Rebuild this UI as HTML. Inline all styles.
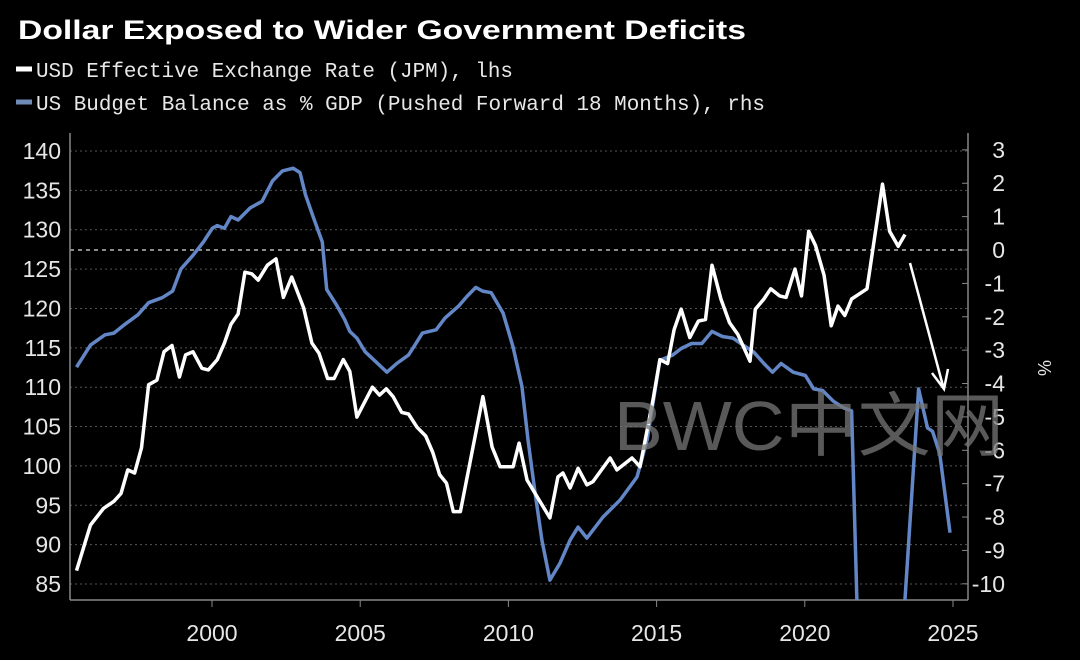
<!DOCTYPE html>
<html><head><meta charset="utf-8"><style>
html,body{margin:0;padding:0;background:#000;width:1080px;height:660px;overflow:hidden;}
svg{display:block;}
</style></head><body>
<svg id="chart" width="1080" height="660" viewBox="0 0 1080 660" xmlns="http://www.w3.org/2000/svg">
<rect width="1080" height="660" fill="#000"/>
<text x="18" y="39" fill="#fff" font-family="Liberation Sans, sans-serif" font-weight="bold" font-size="27" textLength="728" lengthAdjust="spacingAndGlyphs">Dollar Exposed to Wider Government Deficits</text>
<g>
<g>
<line x1="16" y1="69" x2="32" y2="69" stroke="#fff" stroke-width="5"/>
<text x="36" y="77" fill="#e8e8e8" font-family="Liberation Mono, monospace" font-size="21" textLength="477" lengthAdjust="spacingAndGlyphs">USD Effective Exchange Rate (JPM), lhs</text>
</g>
<g>
<line x1="16" y1="102" x2="32" y2="102" stroke="#6f8ab5" stroke-width="5"/>
<text x="36" y="110" fill="#e8e8e8" font-family="Liberation Mono, monospace" font-size="21" textLength="729" lengthAdjust="spacingAndGlyphs">US Budget Balance as % GDP (Pushed Forward 18 Months), rhs</text>
</g>
</g>
<g id="grid"></g>
<g id="axes"></g>
<defs><clipPath id="clip"><rect x="70" y="133" width="898" height="467"/></clipPath></defs>
<g id="series" clip-path="url(#clip)"></g>
<text x="614" y="450" fill="#777" fill-opacity="0.75" font-family="Liberation Sans, 'Noto Sans CJK SC', sans-serif" font-size="70" textLength="390" lengthAdjust="spacingAndGlyphs">BWC中文网</text>
<g>
<line x1="910" y1="263" x2="943" y2="386" stroke="#fff" stroke-width="2.5"/>
<polyline points="932,373 944,389 948,369" fill="none" stroke="#fff" stroke-width="2.5"/>
</g>
</svg>
<script>
const leftTicks = [85,90,95,100,105,110,115,120,125,130,135,140];
const rightTicks = [3,2,1,0,-1,-2,-3,-4,-5,-6,-7,-8,-9,-10];
const yearTicks = [2000,2005,2010,2015,2020,2025];
const usdYears = [1995.43,1995.90,1996.34,1996.69,1996.93,1997.16,1997.39,1997.62,1997.86,1998.14,1998.38,1998.65,1998.90,1999.11,1999.36,1999.66,1999.88,2000.18,2000.42,2000.64,2000.88,2001.11,2001.34,2001.56,2001.87,2002.16,2002.41,2002.69,2003.09,2003.37,2003.61,2003.90,2004.12,2004.43,2004.65,2004.89,2005.12,2005.41,2005.65,2005.88,2006.11,2006.40,2006.63,2006.92,2007.21,2007.45,2007.68,2007.91,2008.14,2008.38,2009.14,2009.45,2009.72,2010.16,2010.36,2010.63,2011.40,2011.67,2011.84,2012.08,2012.35,2012.65,2012.85,2013.43,2013.66,2014.17,2014.44,2014.88,2015.11,2015.37,2015.59,2015.83,2016.12,2016.41,2016.65,2016.87,2017.17,2017.46,2017.74,2018.15,2018.33,2018.62,2018.85,2019.15,2019.37,2019.67,2019.89,2020.13,2020.36,2020.65,2020.89,2021.12,2021.35,2021.58,2021.82,2022.10,2022.62,2022.86,2023.15,2023.38];
const usdValues = [86.7,92.5,94.6,95.5,96.5,99.5,99.1,102.3,110.3,110.9,114.5,115.3,111.3,114.1,114.5,112.4,112.2,113.5,115.6,118,119.3,124.6,124.4,123.6,125.5,126.3,121.4,124,120.1,115.6,114.3,111.1,111.1,113.5,112,106.2,107.9,110,109,109.8,108.8,106.8,106.6,104.9,103.8,101.7,98.9,97.8,94.2,94.2,108.8,102.4,99.9,99.9,102.9,98.2,93.4,98.6,99.1,97.2,99.7,97.6,98.0,101.0,99.5,101.0,99.9,108.4,113.5,113,117.3,119.9,116.3,118.4,118.6,125.5,121.2,118.2,116.7,113.3,119.9,121.2,122.5,121.6,121.4,125,121.6,129.8,128,124.2,117.8,120.3,119.1,121.2,121.8,122.5,135.8,129.8,127.9,129.4];
const budgetYears = [1995.43,1995.90,1996.39,1996.69,1997.04,1997.50,1997.86,1998.32,1998.67,1998.95,1999.36,1999.71,2000.01,2000.18,2000.42,2000.64,2000.88,2001.29,2001.69,2002.04,2002.38,2002.74,2002.97,2003.15,2003.43,2003.72,2003.87,2004.19,2004.48,2004.65,2004.89,2005.17,2005.53,2005.90,2006.23,2006.63,2006.81,2007.10,2007.56,2007.86,2008.32,2008.61,2008.90,2009.13,2009.42,2009.82,2010.16,2010.46,2010.66,2010.90,2011.13,2011.40,2011.74,2012.08,2012.35,2012.65,2013.19,2013.77,2014.34,2014.68,2015.11,2015.54,2015.83,2016.18,2016.53,2016.87,2017.22,2017.57,2017.92,2018.27,2018.62,2018.91,2019.20,2019.61,2020.02,2020.30,2020.60,2020.95,2021.29,2021.58,2021.90,2023.05,2023.84,2024.14,2024.31,2024.55,2024.90];
const budgetValues = [-3.51,-2.85,-2.54,-2.49,-2.24,-1.94,-1.58,-1.43,-1.23,-0.57,-0.16,0.24,0.65,0.73,0.65,1.0,0.9,1.26,1.46,2.07,2.37,2.45,2.32,1.66,0.95,0.24,-1.18,-1.63,-2.09,-2.44,-2.64,-3.05,-3.35,-3.66,-3.4,-3.15,-2.9,-2.49,-2.39,-2.04,-1.68,-1.38,-1.12,-1.23,-1.28,-1.89,-2.91,-4.10,-5.69,-7.28,-8.69,-9.89,-9.38,-8.69,-8.30,-8.63,-8.00,-7.49,-6.80,-5.69,-3.30,-3.15,-2.95,-2.8,-2.8,-2.44,-2.59,-2.64,-2.85,-3.05,-3.4,-3.66,-3.4,-3.66,-3.76,-4.16,-4.21,-4.52,-4.72,-4.82,-15,-15,-4.16,-5.33,-5.43,-6.09,-8.47];

const NS = 'http://www.w3.org/2000/svg';
const X0 = 70, X1 = 968, Y0 = 133, Y1 = 600;
const xScale = yr => 212 + (yr - 2000) * 29.64;
const yLeft = v => 151 + (140 - v) * 7.873;
const yRight = v => 250 - v * 33.38;
function mk(tag, attrs, parent){ const e = document.createElementNS(NS, tag); for (const k in attrs) e.setAttribute(k, attrs[k]); parent.appendChild(e); return e; }
const grid = document.getElementById('grid');
const axes = document.getElementById('axes');
const series = document.getElementById('series');

leftTicks.forEach(v => {
  const y = yLeft(v);
  const g = mk('line', {x1: X0, x2: X1, y1: y, y2: y, stroke: '#555', 'stroke-width': 1, 'stroke-dasharray': '2,3'}, grid);
  
  
  const t = mk('text', {x: 61, y: y + 8, fill: '#e6e6e6', 'font-family': 'Liberation Sans, sans-serif', 'font-size': 23, 'text-anchor': 'end'}, axes);
  t.textContent = v;
  
  
});
const zl = mk('line', {x1: X0, x2: X1, y1: yRight(0), y2: yRight(0), stroke: '#ddd', 'stroke-width': 1.3, 'stroke-dasharray': '4,4'}, grid);


rightTicks.forEach(v => {
  const y = yRight(v);
  mk('line', {x1: X1 - 6, x2: X1, y1: y, y2: y, stroke: '#888', 'stroke-width': 1}, axes);
  const t = mk('text', {x: 1005, y: y + 8, fill: '#e6e6e6', 'font-family': 'Liberation Sans, sans-serif', 'font-size': 23, 'text-anchor': 'end'}, axes);
  t.textContent = v;
  
  
});
yearTicks.forEach(yr => {
  const x = xScale(yr);
  mk('line', {x1: x, x2: x, y1: Y1, y2: Y1 + 7, stroke: '#888', 'stroke-width': 1}, axes);
  const t = mk('text', {x: x, y: 641, fill: '#e6e6e6', 'font-family': 'Liberation Sans, sans-serif', 'font-size': 23, 'text-anchor': 'middle'}, axes);
  t.textContent = yr;
  
  
});
const la = mk('line', {x1: X0, x2: X0, y1: Y0, y2: Y1, stroke: '#888', 'stroke-width': 1.5}, axes);


const ra = mk('line', {x1: X1, x2: X1, y1: Y0, y2: Y1, stroke: '#888', 'stroke-width': 1.5}, axes);


const ba = mk('line', {x1: X0, x2: X1, y1: Y1, y2: Y1, stroke: '#888', 'stroke-width': 1.5}, axes);


const pct = mk('text', {x: 1038, y: 368, fill: '#e6e6e6', 'font-family': 'Liberation Sans, sans-serif', 'font-size': 18, transform: 'rotate(90 1038 368)', 'text-anchor': 'middle'}, axes);
pct.textContent = '%';



const bp = mk('polyline', {points: budgetYears.map((yr,i) => xScale(yr).toFixed(1) + ',' + yRight(budgetValues[i]).toFixed(1)).join(' '), fill: 'none', stroke: '#6386c6', 'stroke-width': 3.5, 'stroke-linejoin': 'round'}, series);


const up = mk('polyline', {points: usdYears.map((yr,i) => xScale(yr).toFixed(1) + ',' + yLeft(usdValues[i]).toFixed(1)).join(' '), fill: 'none', stroke: '#fff', 'stroke-width': 3.5, 'stroke-linejoin': 'round'}, series);


</script>
</body></html>
